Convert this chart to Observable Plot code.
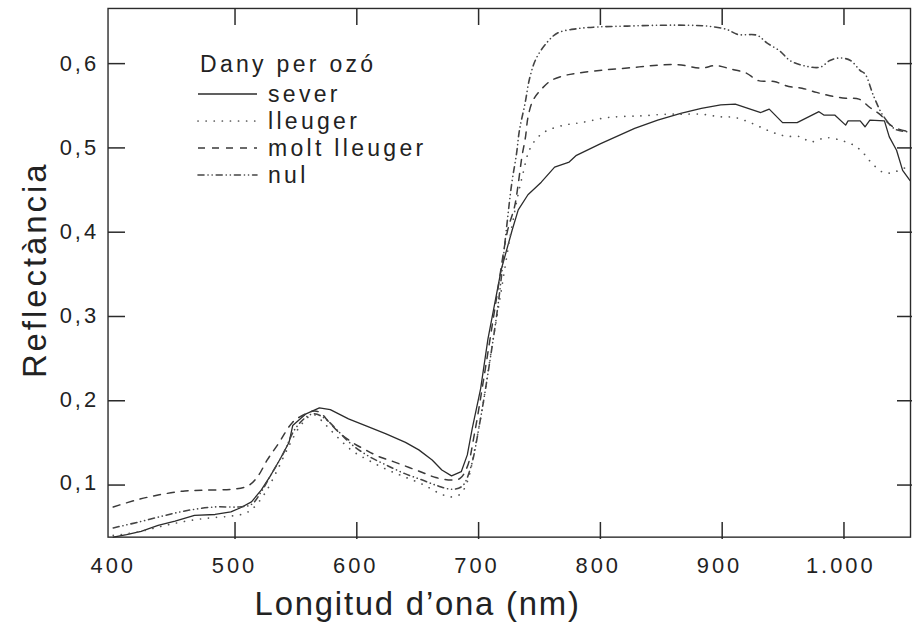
<!DOCTYPE html>
<html>
<head>
<meta charset="utf-8">
<script src="https://cdn.jsdelivr.net/npm/d3@7"></script>
<script src="https://cdn.jsdelivr.net/npm/@observablehq/plot@0.6"></script>
<style>
  html, body { margin: 0; padding: 0; background: #fff; overflow: hidden; width: 912px; height: 633px; }
  #wrap { position: relative; width: 912px; height: 633px; }
  #wrap svg text { letter-spacing: 3px; }
  #overlay { position: absolute; left: 0; top: 0; }
</style>
</head>
<body>
<div id="wrap"></div>
<script>
// ---- data ----
const xTicks = [400, 500, 600, 700, 800, 900, 1000];
const xTickLabels = ["400", "500", "600", "700", "800", "900", "1.000"];
const yTicks = [0.1, 0.2, 0.3, 0.4, 0.5, 0.6];
const yTickLabels = ["0,1", "0,2", "0,3", "0,4", "0,5", "0,6"];

const seriesNames = ["sever", "lleuger", "molt lleuger", "nul"];
const legendTitle = "Dany per ozó";
const xTitle = "Longitud d’ona (nm)";
const yTitle = "Reflectància";

const severNm = [400, 411, 423, 437, 451, 467, 484, 497, 505, 514, 522, 530, 538, 545, 548, 559, 570, 579, 594, 608, 625, 641, 652, 663, 671, 679, 687, 692, 696, 703, 709, 720, 729, 734, 742, 753, 764, 776, 782, 802, 830, 849, 868, 885, 901, 913, 934, 941, 952, 964, 982, 986, 995, 1004, 1006, 1016, 1020, 1024, 1036, 1040, 1046, 1051, 1057];
const severVal = [0.036, 0.039, 0.043, 0.050, 0.055, 0.062, 0.063, 0.066, 0.071, 0.078, 0.092, 0.110, 0.130, 0.149, 0.169, 0.183, 0.190, 0.188, 0.177, 0.169, 0.159, 0.149, 0.140, 0.128, 0.116, 0.109, 0.114, 0.134, 0.165, 0.213, 0.272, 0.355, 0.402, 0.426, 0.444, 0.459, 0.477, 0.483, 0.491, 0.505, 0.523, 0.533, 0.541, 0.547, 0.551, 0.552, 0.542, 0.546, 0.530, 0.530, 0.543, 0.539, 0.539, 0.527, 0.532, 0.532, 0.525, 0.533, 0.532, 0.513, 0.497, 0.473, 0.461];

const lleugerNm = [400, 420, 440, 460, 480, 497, 508, 515, 525, 535, 545, 555, 565, 575, 585, 597, 610, 625, 640, 655, 668, 678, 686, 692, 698, 705, 712, 720, 728, 734, 738, 742, 746, 752, 758.6, 772, 786, 808, 835, 857, 870, 885, 900, 913, 927, 941, 954, 967, 975, 988, 1002, 1012, 1019, 1026, 1036, 1046, 1057];
const lleugerVal = [0.038, 0.042, 0.049, 0.055, 0.059, 0.061, 0.064, 0.070, 0.088, 0.115, 0.145, 0.170, 0.182, 0.170, 0.155, 0.139, 0.128, 0.117, 0.108, 0.099, 0.089, 0.084, 0.087, 0.102, 0.140, 0.195, 0.260, 0.330, 0.400, 0.445, 0.470, 0.493, 0.505, 0.515, 0.521, 0.527, 0.530, 0.536, 0.538, 0.540, 0.540, 0.540, 0.537, 0.536, 0.529, 0.520, 0.514, 0.513, 0.507, 0.512, 0.508, 0.502, 0.493, 0.481, 0.470, 0.472, 0.479];

const moltNm = [400, 421, 440, 459, 475, 497, 511, 519, 527, 536, 548, 556, 564, 570, 578, 586, 597, 608, 619, 631, 644, 655, 666, 679, 686, 692, 698, 705, 716, 725, 731, 734, 737, 740, 742, 746, 752, 761, 772, 783, 803, 824, 846, 866, 885, 897, 909, 922, 932, 945, 957, 968, 980, 991, 1004, 1015, 1024, 1032, 1043, 1057];
const moltVal = [0.072, 0.081, 0.087, 0.091, 0.092, 0.093, 0.097, 0.108, 0.128, 0.147, 0.173, 0.181, 0.186, 0.185, 0.173, 0.161, 0.149, 0.140, 0.132, 0.126, 0.119, 0.113, 0.107, 0.104, 0.106, 0.120, 0.160, 0.220, 0.320, 0.400, 0.430, 0.457, 0.489, 0.513, 0.536, 0.556, 0.568, 0.580, 0.586, 0.589, 0.5925, 0.595, 0.598, 0.599, 0.595, 0.598, 0.594, 0.589, 0.580, 0.579, 0.573, 0.571, 0.566, 0.562, 0.559, 0.558, 0.548, 0.540, 0.525, 0.519];

const nulNm = [400, 421, 443, 462, 484, 503, 514, 522, 530, 540, 550, 560, 566, 575, 585, 597, 610, 625, 640, 655, 668, 680, 688, 695, 702, 710, 718, 724, 728.6, 732.6, 735, 739.5, 743.6, 749, 758.6, 766.8, 783, 800, 824, 852, 874, 890, 906, 915, 931, 939, 950, 958, 969, 983, 991, 999, 1008, 1016, 1020, 1027, 1035, 1045, 1057];
const nulVal = [0.047, 0.054, 0.062, 0.068, 0.072, 0.072, 0.075, 0.090, 0.110, 0.135, 0.165, 0.180, 0.183, 0.177, 0.163, 0.146, 0.133, 0.122, 0.112, 0.104, 0.097, 0.093, 0.097, 0.120, 0.170, 0.240, 0.320, 0.400, 0.457, 0.493, 0.521, 0.552, 0.584, 0.607, 0.627, 0.637, 0.642, 0.644, 0.645, 0.646, 0.646, 0.645, 0.641, 0.635, 0.634, 0.625, 0.615, 0.604, 0.598, 0.596, 0.604, 0.607, 0.604, 0.592, 0.588, 0.562, 0.538, 0.522, 0.519];

(function () {
  const toRows = (nm, val) => nm.map((x, i) => ({x, y: val[i]}));
  const sever = toRows(severNm, severVal);
  const lleuger = toRows(lleugerNm, lleugerVal);
  const molt = toRows(moltNm, moltVal);
  const nul = toRows(nulNm, nulVal);

  const ink = "#2b2b2b";
  const styles = [
    {stroke: ink, strokeWidth: 1.3},
    {stroke: "#555", strokeWidth: 1.7, strokeDasharray: "0.1,8", strokeLinecap: "round"},
    {stroke: "#3a3a3a", strokeWidth: 1.5, strokeDasharray: "7,7"},
    {stroke: "#444", strokeWidth: 1.6, strokeDasharray: "6,4,0.1,4,0.1,4", strokeLinecap: "round"}
  ];

  const W = 916, H = 633, mT = 8, mB = 94, mL = 108, mR = 2;
  const tickLen = 17;
  const xDom = [395.7, 1057.5], yDom = [0.036, 0.666];
  const innerX = xTicks.slice(1);

  const chart = Plot.plot({
    width: W, height: H,
    marginTop: mT, marginBottom: mB, marginLeft: mL, marginRight: mR,
    x: {domain: xDom},
    y: {domain: yDom},
    style: {fontFamily: "'Liberation Sans', Arial, sans-serif", fontSize: "22px", color: "#222", background: "#fff"},
    marks: [
      Plot.line(sever, {x: "x", y: "y", curve: "linear", ...styles[0]}),
      Plot.line(lleuger, {x: "x", y: "y", curve: "catmull-rom", ...styles[1]}),
      Plot.line(molt, {x: "x", y: "y", curve: "catmull-rom", ...styles[2]}),
      Plot.line(nul, {x: "x", y: "y", curve: "catmull-rom", ...styles[3]}),
      Plot.frame({stroke: ink, strokeWidth: 1.4}),
      Plot.axisX({ticks: xTicks, tickSize: 0, tickPadding: 20, label: null, tickFormat: d => xTickLabels[xTicks.indexOf(d)], fill: "#222"}),
      Plot.axisY({ticks: yTicks, tickSize: 0, tickPadding: 9, label: null, tickFormat: d => yTickLabels[yTicks.indexOf(d)], fill: "#222"}),
      Plot.text([xTitle], {frameAnchor: "bottom", text: d => d, dx: -92, dy: 78, lineAnchor: "bottom", textAnchor: "middle", fontSize: 33, fill: "#222"}),
      Plot.text([yTitle], {frameAnchor: "left", text: d => d, dx: -73, dy: -3, rotate: -90, textAnchor: "middle", fontSize: 33, fill: "#222"})
    ]
  });
  document.getElementById("wrap").appendChild(chart);
  chart.querySelectorAll("text").forEach(t => { if (t.textContent === xTitle) t.style.letterSpacing = "1.8px"; });

  // ---- overlay: inward ticks (placed with the chart's own scales) and legend ----
  const NS = "http://www.w3.org/2000/svg";
  const ov = document.createElementNS(NS, "svg");
  ov.setAttribute("id", "overlay");
  ov.setAttribute("width", W);
  ov.setAttribute("height", H);
  const font = "'Liberation Sans', Arial, sans-serif";

  let sx, sy;
  try {
    const a = chart.scale("x"), b = chart.scale("y");
    sx = v => a.apply(v); sy = v => b.apply(v);
    if (!isFinite(sx(500)) || !isFinite(sy(0.3))) throw new Error("bad scale");
  } catch (e) {
    sx = d3.scaleLinear(xDom, [mL, W - mR]);
    sy = d3.scaleLinear(yDom, [H - mB, mT]);
  }
  const xLeft = sx(xDom[0]), xRight = sx(xDom[1]), yBottom = sy(yDom[0]), yTop = sy(yDom[1]);

  function addPath(d, s) {
    const p = document.createElementNS(NS, "path");
    p.setAttribute("d", d);
    p.setAttribute("fill", "none");
    p.setAttribute("stroke", s.stroke);
    p.setAttribute("stroke-width", s.strokeWidth);
    if (s.strokeDasharray) p.setAttribute("stroke-dasharray", s.strokeDasharray);
    if (s.strokeLinecap) p.setAttribute("stroke-linecap", s.strokeLinecap);
    ov.appendChild(p);
  }
  const tickStyle = {stroke: ink, strokeWidth: 1.5};
  innerX.forEach(v => {
    const x = sx(v);
    addPath(`M${x},${yBottom}V${yBottom - tickLen}`, tickStyle);
    addPath(`M${x},${yTop}V${yTop + tickLen}`, tickStyle);
  });
  yTicks.forEach(v => {
    const y = sy(v);
    addPath(`M${xLeft},${y}H${xLeft + tickLen}`, tickStyle);
    addPath(`M${xRight},${y}H${xRight - tickLen}`, tickStyle);
  });

  function addText(str, x, y) {
    const t = document.createElementNS(NS, "text");
    t.setAttribute("x", x); t.setAttribute("y", y);
    t.setAttribute("font-family", font); t.setAttribute("font-size", 23);
    t.setAttribute("fill", "#222");
    t.style.letterSpacing = "3.3px";
    t.textContent = str;
    ov.appendChild(t);
  }
  addText(legendTitle, 200, 72);
  const baselines = [102, 129, 156, 183];
  seriesNames.forEach((name, i) => {
    addPath(`M198,${baselines[i] - 8}H257`, styles[i]);
    addText(name, 268, baselines[i]);
  });
  document.getElementById("wrap").appendChild(ov);
})();
</script>
</body>
</html>
